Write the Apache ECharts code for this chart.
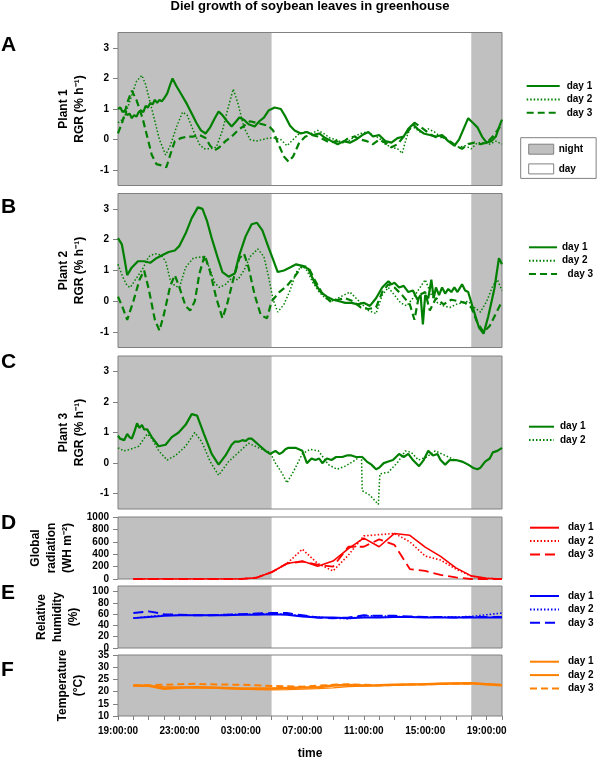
<!DOCTYPE html>
<html><head><meta charset="utf-8">
<script src="https://cdn.jsdelivr.net/npm/echarts@6/dist/echarts.min.js"></script>
<style>html,body{margin:0;padding:0;background:#fff;}#c{width:600px;height:761px;}</style>
</head><body><div id="c"></div>
<script>
// ---------- DATA ----------
const tickHours = [0, 4, 8, 12, 16, 20, 24];
const tickLabels = ['19:00:00', '23:00:00', '03:00:00', '07:00:00', '11:00:00', '15:00:00', '19:00:00'];
const nightPeriods = [[0, 10], [23, 25]];
const rgrTicks = [-1, 0, 1, 2, 3];
const radTicks = [0, 200, 400, 600, 800, 1000];
const rhTicks = [0, 20, 40, 60, 80, 100];
const tempTicks = [10, 15, 20, 25, 30, 35];

// RGR series: [hours after 19:00, RGR %/h]
const plant1Day1 = [[0,1.0],[0.15,1.05],[0.3,0.9],[0.45,0.95],[0.6,0.8],[0.75,0.85],[0.9,0.7],[1.05,0.8],[1.2,0.75],[1.35,0.9],[1.5,0.95],[1.65,0.9],[1.8,1.1],[1.95,1.05],[2.1,1.2],[2.25,1.15],[2.4,1.3],[2.55,1.2],[2.7,1.3],[2.85,1.25],[3.0,1.35],[3.2,1.5],[3.4,1.8],[3.55,2.0],[3.8,1.75],[4.1,1.5],[4.5,1.15],[4.8,0.85],[5.1,0.55],[5.4,0.3],[5.7,0.2],[6.0,0.4],[6.3,0.7],[6.55,0.92],[6.8,0.8],[7.1,0.6],[7.4,0.43],[7.7,0.6],[7.9,0.72],[8.2,0.65],[8.5,0.5],[8.9,0.43],[9.2,0.6],[9.5,0.72],[9.8,0.95],[10.2,1.05],[10.6,1.0],[10.9,0.75],[11.2,0.45],[11.5,0.3],[11.9,0.2],[12.3,0.25],[12.7,0.15],[13.1,0.2],[13.5,0.05],[13.9,-0.05],[14.3,-0.15],[14.7,-0.05],[15.1,-0.1],[15.5,0.0],[15.9,0.15],[16.3,0.25],[16.6,0.1],[17.0,0.15],[17.4,-0.05],[17.8,-0.1],[18.2,0.05],[18.6,0.1],[18.9,0.35],[19.2,0.5],[19.5,0.35],[19.9,0.2],[20.3,0.15],[20.7,0.1],[21.1,0.15],[21.5,-0.05],[21.9,-0.2],[22.2,0.0],[22.5,0.35],[22.8,0.7],[23.1,0.55],[23.4,0.4],[23.7,0.1],[24.0,-0.1],[24.3,-0.05],[24.6,0.1],[24.8,0.4],[25.0,0.65]];
const plant1Day2 = [[0,0.55],[0.4,0.7],[0.8,1.3],[1.2,1.9],[1.55,2.1],[1.8,1.8],[2.1,1.2],[2.4,0.6],[2.7,0.0],[3.1,-0.5],[3.4,-0.2],[3.8,0.4],[4.2,0.9],[4.5,0.8],[4.9,0.3],[5.3,-0.15],[5.6,-0.3],[6.0,-0.3],[6.4,-0.25],[6.8,0.3],[7.2,1.1],[7.5,1.65],[7.8,1.2],[8.2,0.4],[8.6,0.0],[9.0,-0.05],[9.4,0.0],[9.8,0.05],[10.2,0.05],[10.6,0.0],[11.0,-0.2],[11.4,0.0],[11.8,0.2],[12.2,0.25],[12.6,0.2],[13.0,0.3],[13.4,0.2],[13.8,0.05],[14.2,0.0],[14.6,-0.1],[15.0,-0.05],[15.4,0.1],[15.8,0.2],[16.2,0.25],[16.6,0.15],[17.0,0.05],[17.4,-0.15],[17.8,-0.25],[18.2,-0.3],[18.5,-0.45],[18.8,0.1],[19.1,0.45],[19.4,0.35],[19.8,0.2],[20.2,0.35],[20.6,0.25],[21.0,0.1],[21.4,0.0],[21.8,-0.15],[22.2,-0.25],[22.6,-0.2],[23.0,-0.3],[23.4,-0.1],[23.8,-0.1],[24.2,-0.15],[24.6,-0.05],[25.0,-0.15]];
const plant1Day3 = [[0,0.2],[0.3,0.6],[0.6,1.2],[0.9,1.6],[1.2,1.3],[1.6,0.7],[1.9,0.1],[2.2,-0.5],[2.5,-0.8],[2.9,-0.85],[3.15,-0.9],[3.4,-0.5],[3.7,-0.05],[4.1,0.05],[4.5,0.1],[4.9,0.1],[5.3,0.15],[5.7,0.05],[6.0,-0.2],[6.3,-0.35],[6.6,-0.25],[7.0,-0.05],[7.4,0.1],[7.8,0.3],[8.2,0.45],[8.6,0.6],[9.0,0.55],[9.4,0.5],[9.8,0.45],[10.1,0.3],[10.4,-0.1],[10.8,-0.55],[11.1,-0.72],[11.4,-0.55],[11.8,-0.1],[12.2,0.1],[12.6,0.15],[13.0,0.1],[13.4,0.0],[13.8,-0.1],[14.2,-0.05],[14.6,-0.1],[15.0,0.05],[15.4,0.1],[15.8,0.0],[16.2,-0.05],[16.6,-0.15],[17.0,0.0],[17.4,-0.1],[17.8,-0.25],[18.2,-0.15],[18.6,0.1],[19.0,0.35],[19.3,0.55],[19.6,0.45],[20.0,0.3],[20.4,0.15],[20.8,0.05],[21.2,0.1],[21.6,-0.05],[22.0,-0.2],[22.4,-0.3],[22.8,-0.15],[23.2,-0.1],[23.6,-0.15],[24.0,-0.1],[24.4,0.1],[24.7,0.3],[25.0,0.5]];

const plant2Day1 = [[0,2.05],[0.25,1.85],[0.45,1.3],[0.6,0.85],[0.9,1.1],[1.3,1.3],[1.7,1.3],[2.1,1.25],[2.5,1.4],[2.9,1.5],[3.3,1.6],[3.7,1.65],[4.0,1.8],[4.4,2.2],[4.8,2.7],[5.2,3.05],[5.5,3.0],[5.8,2.6],[6.1,2.05],[6.5,1.4],[6.8,0.95],[7.2,0.8],[7.6,0.9],[7.9,1.5],[8.3,2.1],[8.7,2.5],[9.05,2.55],[9.4,2.3],[9.8,1.75],[10.1,1.35],[10.4,0.95],[10.8,1.0],[11.2,1.1],[11.6,1.2],[12.0,1.15],[12.4,1.05],[12.8,0.6],[13.2,0.3],[13.6,0.15],[14.0,0.05],[14.4,0.0],[14.8,-0.05],[15.2,-0.05],[15.6,-0.1],[16.0,-0.05],[16.4,-0.15],[16.8,0.1],[17.2,0.45],[17.6,0.65],[17.8,0.55],[18.0,0.6],[18.3,0.45],[18.6,0.5],[18.9,0.3],[19.2,0.35],[19.5,0.05],[19.7,0.2],[19.85,-0.75],[20.0,0.2],[20.2,0.1],[20.4,0.7],[20.55,0.1],[20.7,0.45],[20.9,0.2],[21.1,0.45],[21.3,0.25],[21.5,0.4],[21.7,0.3],[21.9,0.45],[22.1,0.3],[22.4,0.55],[22.6,0.35],[22.8,0.3],[23.1,-0.2],[23.5,-0.85],[23.8,-1.05],[24.1,-0.5],[24.5,0.4],[24.8,1.4],[25.0,1.2]];
const plant2Day2 = [[0,1.2],[0.3,0.8],[0.6,0.5],[0.8,0.45],[1.2,0.75],[1.6,1.05],[2.0,1.45],[2.4,1.55],[2.8,1.5],[3.1,1.3],[3.4,0.7],[3.7,0.5],[4.0,0.45],[4.4,1.1],[4.9,1.4],[5.5,1.45],[5.9,1.15],[6.3,0.6],[6.6,0.45],[7.0,0.55],[7.4,0.75],[7.8,0.7],[8.2,1.0],[8.6,1.45],[9.1,1.7],[9.5,1.45],[9.8,0.8],[10.1,0.05],[10.4,-0.35],[10.8,-0.1],[11.2,0.35],[11.6,0.95],[12.0,1.15],[12.3,1.0],[12.7,0.6],[13.1,0.3],[13.5,0.1],[13.9,0.0],[14.3,0.1],[14.7,0.2],[15.1,0.3],[15.5,0.1],[15.9,-0.1],[16.3,-0.3],[16.8,-0.4],[17.2,0.2],[17.6,0.45],[18.0,0.2],[18.4,-0.05],[18.8,-0.15],[19.2,0.1],[19.6,0.4],[20.0,0.7],[20.4,0.2],[20.8,-0.05],[21.2,-0.15],[21.6,-0.2],[22.0,-0.1],[22.4,-0.05],[22.8,0.0],[23.2,-0.2],[23.6,-0.35],[24.0,0.0],[24.4,0.5],[24.7,0.7],[25.0,0.35]];
const plant2Day3 = [[0,0.15],[0.3,-0.2],[0.6,-0.6],[1.0,0.0],[1.4,0.7],[1.7,1.0],[2.0,0.4],[2.4,-0.6],[2.7,-0.95],[3.0,-0.4],[3.4,0.5],[3.7,0.85],[4.0,0.45],[4.4,-0.15],[4.7,-0.3],[5.0,0.0],[5.3,0.9],[5.65,1.5],[6.0,0.95],[6.4,0.1],[6.8,-0.55],[7.1,-0.1],[7.5,0.7],[7.9,1.4],[8.2,1.55],[8.5,1.1],[8.9,0.2],[9.3,-0.45],[9.7,-0.55],[10.0,0.0],[10.5,0.3],[11.0,0.5],[11.5,0.8],[12.0,1.15],[12.4,1.1],[12.8,0.7],[13.3,0.25],[13.8,0.0],[14.3,0.05],[14.8,0.1],[15.3,0.0],[15.8,-0.2],[16.3,-0.25],[16.8,-0.2],[17.2,0.3],[17.6,0.55],[18.0,0.45],[18.5,0.2],[19.0,-0.1],[19.3,-0.6],[19.6,0.2],[20.0,0.3],[20.3,-0.3],[20.7,0.1],[21.2,-0.1],[21.7,0.05],[22.2,0.0],[22.6,-0.05],[23.0,-0.2],[23.4,-0.7],[23.8,-1.0],[24.2,-0.8],[24.6,-0.4],[25.0,0.0]];

const plant3Day1 = [[0,0.9],[0.13,0.8],[0.26,0.85],[0.4,0.75],[0.6,0.95],[0.75,0.85],[0.9,0.8],[1.05,1.0],[1.24,1.3],[1.4,1.15],[1.56,1.25],[1.7,1.1],[1.9,1.1],[2.2,0.85],[2.65,0.55],[3.1,0.6],[3.5,0.85],[3.95,1.0],[4.4,1.25],[4.8,1.6],[5.15,1.55],[5.6,0.95],[6.1,0.3],[6.55,-0.05],[7.0,0.25],[7.4,0.6],[7.6,0.7],[7.85,0.7],[8.1,0.75],[8.3,0.72],[8.5,0.8],[8.7,0.8],[9.15,0.6],[9.6,0.4],[9.9,0.3],[10.25,0.4],[10.5,0.3],[10.7,0.35],[10.9,0.45],[11.1,0.5],[11.55,0.5],[12.0,0.4],[12.3,0.0],[12.6,0.15],[12.85,0.1],[13.1,0.15],[13.3,0.0],[13.6,0.15],[13.9,0.1],[14.2,0.2],[14.6,0.2],[14.9,0.25],[15.2,0.25],[15.5,0.2],[15.9,0.2],[16.2,0.05],[16.5,-0.05],[16.8,-0.2],[17.0,-0.15],[17.3,0.0],[17.6,0.05],[17.9,0.1],[18.3,0.3],[18.6,0.2],[18.9,0.3],[19.2,0.1],[19.6,-0.1],[19.9,0.1],[20.2,0.4],[20.5,0.25],[20.8,0.3],[21.0,0.1],[21.3,-0.05],[21.6,0.1],[22.0,0.1],[22.4,0.05],[22.8,-0.05],[23.1,-0.15],[23.4,-0.2],[23.6,-0.15],[23.9,0.05],[24.2,0.15],[24.4,0.35],[24.7,0.4],[25.0,0.5]];
const plant3Day2 = [[0,0.5],[0.37,0.4],[0.8,0.45],[1.35,0.55],[1.9,0.95],[2.2,0.8],[2.65,0.4],[3.2,0.1],[3.75,0.25],[4.4,0.55],[5.0,1.0],[5.45,0.7],[6.0,0.05],[6.55,-0.4],[7.2,0.05],[7.85,0.35],[8.5,0.65],[9.15,0.5],[9.9,0.35],[10.25,0.0],[10.7,-0.35],[11.0,-0.65],[11.45,-0.25],[12.0,0.3],[12.5,0.45],[13.05,0.4],[13.7,-0.05],[14.25,-0.2],[14.8,-0.1],[15.45,0.1],[15.85,0.25],[15.9,-0.9],[16.4,-1.05],[16.95,-1.35],[17.05,-0.35],[17.6,-0.3],[18.25,0.05],[18.7,0.4],[19.1,0.35],[19.55,0.1],[20.1,0.2],[20.65,0.4],[21.3,0.25],[21.95,0.1]];

// Hourly weather data, hours after 19:00 (1 = 20:00 ... 25 = 20:00 next day)
const weatherHours = [1,2,3,4,5,6,7,8,9,10,11,12,13,14,15,16,17,18,19,20,21,22,23,24,25];
const radDay1 = [0,0,0,0,0,0,0,0,20,110,250,290,205,290,490,660,520,735,705,515,365,180,50,10,0];
const radDay2 = [0,0,0,0,0,0,0,0,20,110,250,480,250,130,385,695,715,735,600,370,305,160,45,10,0];
const radDay3 = [0,0,0,0,0,0,0,0,20,110,250,280,230,200,520,520,640,550,160,130,65,25,0,0,0];
const rhDay1 = [53,55,57,58,58,58,58,59,59,60,59,56,54,54,53,54,54,55,55,54,54,54,54,54,54];
const rhDay2 = [53,56,58,58,58,58,59,60,60,61,60,57,55,53,52,57,57,56,55,55,55,55,56,59,62];
const rhDay3 = [62,65,60,59,58,58,59,60,61,62,62,58,54,53,54,58,57,57,56,55,55,54,55,55,55];
const tempDay1 = [22.5,22.3,22.0,21.8,21.6,21.4,21.2,21.0,20.8,20.7,20.8,21.0,21.2,21.5,22.0,22.3,22.5,22.8,23.0,23.2,23.4,23.5,23.5,23.2,22.8];
const tempDay2 = [22.5,22.4,21.2,21.6,21.8,21.7,21.5,21.3,21.2,21.3,21.5,21.7,21.8,22.5,22.7,22.5,22.6,22.8,22.9,23.0,23.2,23.3,23.4,23.0,22.6];
const tempDay3 = [22.5,22.6,22.8,23.0,23.2,23.0,22.9,22.8,22.6,22.3,22.2,22.0,22.4,22.8,23.0,22.8,22.6,22.7,22.9,23.0,23.1,23.2,23.3,23.0,22.7];

// ---------- CHART ----------
const FONT = '"Liberation Sans", Arial, sans-serif';
const GREEN = '#008000', RED = '#ff0000', BLUE = '#0000ff', ORANGE = '#ff8000';
const DOT = [1.5, 2], DASH = [7, 4], LDASH = [10, 5];
const hourly = arr => arr.map((v, i) => [weatherHours[i], v]);

const panels = [
  {top: 32.5, height: 153, min: -1.5, max: 3.5, ticks: rgrTicks, name: 'Plant 1\nRGR (% h⁻¹)', gap: 30, letter: 'A', ly: 46.7,
   legend: {left: 525.7, top: 81, w: 33, textPad: 2}},
  {top: 193.5, height: 154, min: -1.5, max: 3.5, ticks: rgrTicks, name: 'Plant 2\nRGR (% h⁻¹)', gap: 30, letter: 'B', ly: 208.3,
   legend: {left: 528, top: 242.3, w: 28, textPad: 0}},
  {top: 356, height: 153, min: -1.5, max: 3.5, ticks: rgrTicks, name: 'Plant 3\nRGR (% h⁻¹)', gap: 30, letter: 'C', ly: 363.3,
   legend: {left: 528, top: 421.7, w: 25, textPad: 1}},
  {top: 517, height: 62, min: 0, max: 1000, ticks: radTicks, name: 'Global\nradiation\n(WH m⁻²)', gap: 40, letter: 'D', ly: 525,
   legend: {left: 529, top: 522.7, w: 29, textPad: 4}},
  {top: 586, height: 62, min: 0, max: 110, ticks: rhTicks, name: 'Relative\nhumidity\n(%)', gap: 33, letter: 'E', ly: 595,
   legend: {left: 529, top: 591, w: 29, textPad: 4}},
  {top: 655, height: 62, min: 10, max: 35, ticks: tempTicks, name: 'Temperature\n(°C)', gap: 31, letter: 'F', ly: 671.7,
   legend: {left: 529, top: 656.7, w: 29, textPad: 4}}
];

const lines = [
  {p: 0, name: 'day 1', data: plant1Day1, color: GREEN, width: 2.2, type: 'solid'},
  {p: 0, name: 'day 2', data: plant1Day2, color: GREEN, width: 1.5, type: DOT},
  {p: 0, name: 'day 3', data: plant1Day3, color: GREEN, width: 2.2, type: DASH},
  {p: 1, name: 'day 1', data: plant2Day1, color: GREEN, width: 2.2, type: 'solid'},
  {p: 1, name: 'day 2', data: plant2Day2, color: GREEN, width: 1.5, type: DOT},
  {p: 1, name: '  day 3', data: plant2Day3, color: GREEN, width: 2.2, type: DASH},
  {p: 2, name: 'day 1', data: plant3Day1, color: GREEN, width: 2.2, type: 'solid'},
  {p: 2, name: 'day 2', data: plant3Day2, color: GREEN, width: 1.5, type: DOT},
  {p: 3, name: 'day 1', data: hourly(radDay1), color: RED, width: 1.6, type: 'solid'},
  {p: 3, name: 'day 2', data: hourly(radDay2), color: RED, width: 1.6, type: DOT},
  {p: 3, name: 'day 3', data: hourly(radDay3), color: RED, width: 1.8, type: LDASH},
  {p: 4, name: 'day 1', data: hourly(rhDay1), color: BLUE, width: 2, type: 'solid'},
  {p: 4, name: 'day 2', data: hourly(rhDay2), color: BLUE, width: 1.6, type: DOT},
  {p: 4, name: 'day 3', data: hourly(rhDay3), color: BLUE, width: 2, type: LDASH},
  {p: 5, name: 'day 1', data: hourly(tempDay1), color: ORANGE, width: 1.3, type: 'solid'},
  {p: 5, name: 'day 2', data: hourly(tempDay2), color: ORANGE, width: 2.6, type: 'solid'},
  {p: 5, name: 'day 3', data: hourly(tempDay3), color: ORANGE, width: 2, type: DASH}
];

const grid = [], xAxis = [], yAxis = [], series = [], legend = [], graphic = [];
const lastP = panels.length - 1;
panels.forEach((pn, i) => {
  grid.push({left: 118, width: 384, top: pn.top, height: pn.height, show: true, z: 2,
    backgroundColor: 'transparent', borderColor: '#808080', borderWidth: 1});
  xAxis.push({gridIndex: i, type: 'value', min: 0, max: 25, interval: 1,
    axisLine: {show: false}, splitLine: {show: false},
    axisTick: {show: i === lastP, length: 4, lineStyle: {color: '#808080'}},
    axisLabel: {show: i === lastP, customValues: tickHours, margin: 10,
      formatter: v => tickLabels[tickHours.indexOf(v)] || '',
      fontFamily: FONT, fontSize: 10, fontWeight: 'bold', color: '#000'},
    name: i === lastP ? 'time' : '', nameLocation: 'middle', nameGap: 32,
    nameTextStyle: {fontFamily: FONT, fontSize: 12, fontWeight: 'bold', color: '#000'}});
  yAxis.push({gridIndex: i, type: 'value', min: pn.min, max: pn.max,
    axisLine: {show: false}, splitLine: {show: false},
    axisTick: {show: true, length: 5, customValues: pn.ticks, lineStyle: {color: '#808080'}},
    axisLabel: {customValues: pn.ticks, margin: 9, formatter: v => String(v),
      fontFamily: FONT, fontSize: 10, fontWeight: 'bold', color: '#000'},
    name: pn.name, nameLocation: 'middle', nameRotate: 90, nameGap: pn.gap,
    nameTextStyle: {fontFamily: FONT, fontSize: 12, fontWeight: 'bold', color: '#000', lineHeight: 16, align: 'center'}});
  series.push({type: 'line', xAxisIndex: i, yAxisIndex: i, data: [], z: 1, silent: true,
    markArea: {silent: true, itemStyle: {color: '#c0c0c0', opacity: 1},
      data: nightPeriods.map(p => [{xAxis: p[0]}, {xAxis: p[1]}])}});
  graphic.push({type: 'text', left: 1, top: pn.ly - 12,
    style: {text: pn.letter, font: 'bold 21px ' + FONT, fill: '#000'}});
});

lines.forEach(l => {
  const key = 'ABCDEF'[l.p] + '|' + l.name;
  series.push({type: 'line', name: key, xAxisIndex: l.p, yAxisIndex: l.p, data: l.data,
    symbol: 'none', showSymbol: false, z: 3, silent: true,
    lineStyle: {color: l.color, width: l.width, type: l.type},
    itemStyle: {color: l.color}});
});

panels.forEach((pn, i) => {
  const names = lines.filter(l => l.p === i).map(l => 'ABCDEF'[i] + '|' + l.name);
  legend.push({orient: 'vertical', left: pn.legend.left, top: pn.legend.top, padding: 0,
    itemWidth: pn.legend.w, itemHeight: 10, itemGap: 3.4, selectedMode: false,
    itemStyle: {opacity: 0},
    data: names, formatter: n => n.split('|')[1],
    textStyle: {fontFamily: FONT, fontSize: 10, fontWeight: 'bold', color: '#000', padding: [0, 0, 0, pn.legend.textPad]}});
});

// night / day key
series.push({type: 'line', name: 'night', xAxisIndex: 0, yAxisIndex: 0, data: []});
series.push({type: 'line', name: 'day', xAxisIndex: 0, yAxisIndex: 0, data: []});
legend.push({orient: 'vertical', left: 520.7, top: 137.7, padding: [6, 13, 4, 7.5],
  borderColor: '#808080', borderWidth: 1, itemWidth: 25, itemHeight: 10, itemGap: 8.7, selectedMode: false,
  data: [
    {name: 'night', icon: 'rect', itemStyle: {color: '#c0c0c0', borderColor: '#808080', borderWidth: 1, opacity: 1}},
    {name: 'day', icon: 'rect', itemStyle: {color: '#ffffff', borderColor: '#808080', borderWidth: 1, opacity: 1}}
  ],
  textStyle: {fontFamily: FONT, fontSize: 10, fontWeight: 'bold', color: '#000'}});

const chart = echarts.init(document.getElementById('c'), null, {renderer: 'canvas'});
chart.setOption({
  animation: false,
  backgroundColor: '#fff',
  title: {text: 'Diel growth of soybean leaves in greenhouse', left: 310, textAlign: 'center', top: 0, padding: 0,
    textStyle: {fontFamily: FONT, fontSize: 13, fontWeight: 'bold', color: '#000'}},
  grid, xAxis, yAxis, series, legend, graphic
});
</script></body></html>
